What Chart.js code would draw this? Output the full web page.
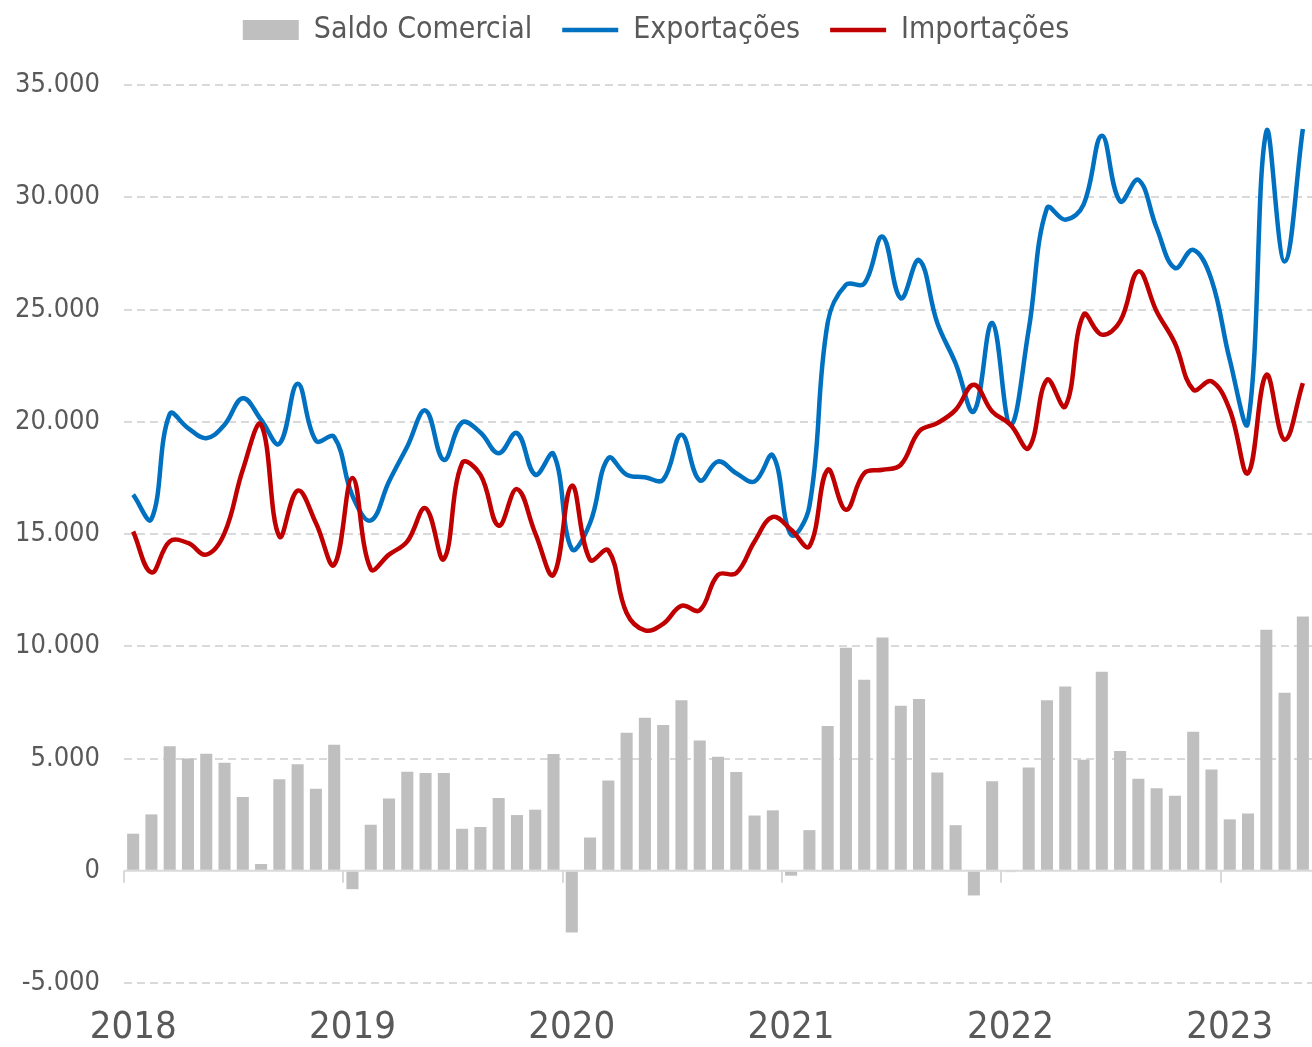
<!DOCTYPE html>
<html>
<head>
<meta charset="utf-8">
<script src="https://cdn.jsdelivr.net/npm/chart.js@4"></script>
<style>
  body { margin: 0; background: #fff; }
</style>
</head>
<body>
<canvas id="balancaChart" width="1312" height="1047"></canvas>
<script>
const anos = ['2018', '2019', '2020', '2021', '2022', '2023'];
const nomesMes = ['jan', 'fev', 'mar', 'abr', 'mai', 'jun', 'jul', 'ago', 'set', 'out', 'nov', 'dez'];

// jan/2018 a mai/2023 (US$ milhões)
const saldo = [
    1650, 2510, 5550, 5000, 5210, 4810, 3280, 300, 4080, 4740, 3650, 5610,
    -820, 2050, 3220, 4410, 4350, 4350, 1870, 1950, 3240, 2480, 2720, 5200,
    -2750, 1480, 4020, 6150, 6820, 6490, 7590, 5800, 5080, 4400, 2460, 2690,
    -220, 1810, 6450, 9930, 8510, 10390, 7350, 7650, 4380, 2030, -1100, 3990,
    -60, 4600, 7600, 8210, 4940, 8860, 5330, 4100, 3680, 3340, 6190, 4510,
    2290, 2550, 10730, 7930, 11330
];
const exportacoes = [
    16750, 15660, 20340, 19720, 19270, 19870, 21050, 20090, 19020, 21690, 19150, 19320,
    16700, 15600, 17340, 18900, 20500, 18300, 19970, 19520, 18600, 19500, 17640, 18560,
    14330, 15490, 18380, 17640, 17530, 17420, 19420, 17390, 18230, 17710, 17340, 18500,
    14970, 16230, 24400, 26100, 26150, 28250, 25500, 27200, 24400, 22600, 20460, 24400,
    19870, 24100, 29520, 29000, 29670, 32740, 29820, 30780, 28630, 26850, 27660, 26330,
    22760, 19970, 32930, 27140, 33040
];
const importacoes = [
    15110, 13290, 14670, 14600, 14080, 15040, 17860, 19870, 14890, 16930, 15490, 13630,
    17490, 13440, 14080, 14670, 16150, 13880, 18160, 17640, 15370, 17000, 15040, 13180,
    17150, 13850, 14270, 11480, 10710, 11000, 11800, 11600, 13180, 13260, 14670, 15760,
    15190, 14450, 17860, 16080, 17710, 17860, 18080, 19570, 19940, 20530, 21650, 20460,
    19870, 18830, 21870, 20680, 24770, 23880, 24470, 26700, 24910, 23500, 21430, 21800,
    20530, 17710, 22090, 19200, 21720
];

const meses = [];
anos.forEach(ano => nomesMes.forEach(m => {
    if (meses.length < saldo.length) meses.push(m + '/' + ano.slice(2));
}));

const corTexto = '#595959';
const corGrade = '#D9D9D9';
const fonte = "'DejaVu Sans Condensed', 'DejaVu Sans', sans-serif";

function formatarMilhar(v) {
    const s = Math.abs(v).toString().replace(/\B(?=(\d{3})+(?!\d))/g, '.');
    return (v < 0 ? '-' : '') + s;
}

// linha do zero com as marcas de cada ano
const eixoZero = {
    id: 'eixoZero',
    beforeDatasetsDraw(chart) {
        const { ctx, chartArea, scales: { x, y } } = chart;
        const y0 = y.getPixelForValue(0);
        const passo = x.getPixelForValue(1) - x.getPixelForValue(0);
        ctx.save();
        ctx.strokeStyle = corGrade;
        ctx.lineWidth = 2;
        ctx.beginPath();
        ctx.moveTo(chartArea.left, y0);
        ctx.lineTo(chartArea.right, y0);
        for (let i = 0; i < meses.length; i += 12) {
            const px = Math.round(x.getPixelForValue(i) - passo / 2);
            ctx.moveTo(px, y0);
            ctx.lineTo(px, y0 + 12);
        }
        ctx.stroke();
        ctx.restore();
    }
};

// espaço fixo para a legenda, desenhada um pouco mais acima
const alturaLegenda = {
    id: 'alturaLegenda',
    beforeInit(chart) {
        const legenda = chart.legend;
        const fitOriginal = legenda.fit;
        const drawOriginal = legenda.draw;
        legenda.fit = function () {
            fitOriginal.call(this);
            this.height = 85;
        };
        legenda.draw = function (...args) {
            this.ctx.save();
            this.ctx.translate(0, -15);
            drawOriginal.apply(this, args);
            this.ctx.restore();
        };
    }
};

const config = {
    type: 'bar',
    data: {
        labels: meses,
        datasets: [{
            type: 'bar',
            label: 'Saldo Comercial',
            data: saldo,
            backgroundColor: '#BFBFBF',
            borderWidth: 0,
            barPercentage: 0.66,
            categoryPercentage: 1,
            pointStyle: 'rect',
            order: 3
        }, {
            type: 'line',
            label: 'Exportações',
            data: exportacoes,
            borderColor: '#0070C0',
            backgroundColor: '#0070C0',
            borderWidth: 4.5,
            pointRadius: 0,
            tension: 0.4,
            pointStyle: 'line',
            order: 2
        }, {
            type: 'line',
            label: 'Importações',
            data: importacoes,
            borderColor: '#C00000',
            backgroundColor: '#C00000',
            borderWidth: 4.5,
            pointRadius: 0,
            tension: 0.4,
            pointStyle: 'line',
            order: 1
        }]
    },
    options: {
        responsive: false,
        animation: false,
        layout: { padding: 0 },
        plugins: {
            legend: {
                position: 'top',
                labels: {
                    usePointStyle: true,
                    pointStyleWidth: 56,
                    boxHeight: 20,
                    padding: 30,
                    color: corTexto,
                    font: { family: fonte, size: 30 },
                    sort: (a, b) => a.datasetIndex - b.datasetIndex
                }
            },
            tooltip: { enabled: false }
        },
        scales: {
            x: {
                offset: true,
                grid: { display: false, drawTicks: false },
                border: { display: false },
                ticks: {
                    autoSkip: false,
                    maxRotation: 0,
                    padding: 22,
                    color: corTexto,
                    font: { family: fonte, size: 38 },
                    callback: (v, i) => i % 12 === 0 ? anos[i / 12] : ''
                },
                afterFit: scale => {
                    scale.height = 64;
                    scale.paddingRight = 0;
                }
            },
            y: {
                min: -5000,
                max: 35000,
                grid: {
                    color: ctx => ctx.tick && ctx.tick.value === 0 ? 'rgba(0,0,0,0)' : corGrade,
                    lineWidth: 2,
                    drawTicks: false
                },
                border: { display: false, dash: [8, 5] },
                ticks: {
                    stepSize: 5000,
                    padding: 24,
                    color: corTexto,
                    font: { family: fonte, size: 27 },
                    callback: v => formatarMilhar(v)
                },
                afterFit: scale => { scale.width = 124; }
            }
        }
    },
    plugins: [eixoZero, alturaLegenda]
};

const ctx = document.getElementById('balancaChart').getContext('2d');
const chart = new Chart(ctx, config);
</script>
</body>
</html>
